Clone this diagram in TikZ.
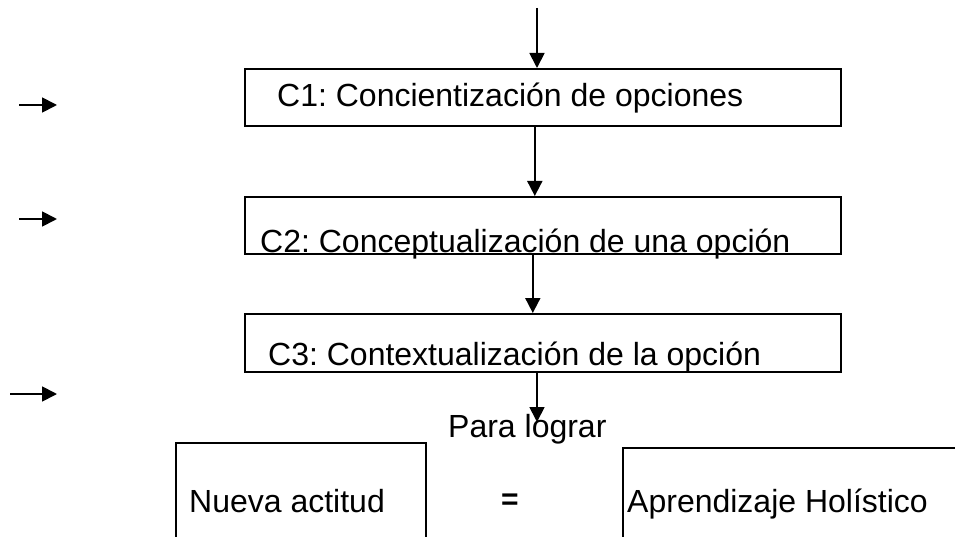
\documentclass[tikz,border=0pt]{standalone}
\usepackage{fontspec}
\setmainfont{Liberation Sans}
\usetikzlibrary{arrows.meta}
\frenchspacing

\begin{document}
\begin{tikzpicture}[x=1pt, y=-1pt,
    box/.style={draw, line width=1.6pt, rectangle, inner sep=0pt, anchor=north west},
    lbl/.style={anchor=base west, inner sep=0pt, font=\fontsize{32}{38}\selectfont},
    flow/.style={line width=1.8pt, -{Triangle[length=15pt, width=15pt]}}]
    \useasboundingbox (0,0) rectangle (955,537);

    % Stages C1 to C3
    \node[box, minimum width=596pt, minimum height=57pt] (c1) at (244,68) {};
    \node[box, minimum width=596pt, minimum height=57pt] (c2) at (244,196) {};
    \node[box, minimum width=596pt, minimum height=58pt] (c3) at (244,313) {};
    \node[lbl] (t1) at (277,107) {C1: Concientización de opciones};
    \node[lbl] (t2) at (260,253) {C2: Conceptualización de una opción};
    \node[lbl] (t3) at (268,365) {C3: Contextualización de la opción};

    % Result
    \node[lbl] (para) at (448,437) {Para lograr};
    \node[box, minimum width=250pt, minimum height=130pt] (nueva) at (175,442) {};
    \node[box, minimum width=360pt, minimum height=130pt] (holis) at (622,447) {};
    \node[lbl] (t4) at (189,512) {Nueva actitud};
    \node[lbl] (t5) at (627,512) {Aprendizaje Holístico};
    \node[font=\fontsize{30}{36}\selectfont\bfseries, inner sep=0pt] (igual) at (510,502) {=};

    % Flow down
    \coordinate (start) at (537,8);
    \coordinate (goal) at (537,422);
    \draw[flow] (start) -- (start |- c1.north);
    \draw[flow] ([xshift=-8pt]c1.south) -- ([xshift=-8pt]c2.north);
    \draw[flow] ([xshift=-10pt]c2.south) -- ([xshift=-10pt]c3.north);
    \draw[flow] (goal |- c3.south) -- (goal);

    % Side arrows
    \coordinate (a1) at (19,105);  \coordinate (b1) at (57,105);
    \coordinate (a2) at (19,219);  \coordinate (b2) at (57,219);
    \coordinate (a3) at (10,394);  \coordinate (b3) at (57,394);
    \draw[flow] (a1) -- (b1);
    \draw[flow] (a2) -- (b2);
    \draw[flow] (a3) -- (b3);
\end{tikzpicture}
\end{document}
